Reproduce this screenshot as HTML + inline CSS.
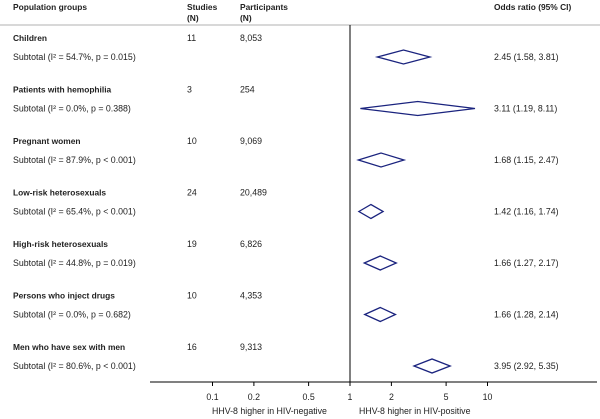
<!DOCTYPE html>
<html><head><meta charset="utf-8"><style>
body{margin:0;background:#fff;}
svg{display:block;font-family:"Liberation Sans",Arial,sans-serif;}
text{fill:#222;font-size:8.8px;}
.b{font-weight:bold;font-size:8.4px;}
</style></head><body>
<svg id="c" width="600" height="419">
<line x1="0" y1="25" x2="600" y2="25" stroke="#ccc" stroke-width="1.5"/>
<text x="13" y="10" class="b">Population groups</text>
<text x="187" y="10" class="b">Studies</text>
<text x="187" y="21" class="b">(N)</text>
<text x="240" y="10" class="b">Participants</text>
<text x="240" y="21" class="b">(N)</text>
<text x="494" y="10" class="b">Odds ratio (95% CI)</text>
<line x1="350" y1="25" x2="350" y2="382" stroke="#000" stroke-width="1"/>
<line x1="150" y1="382" x2="597" y2="382" stroke="#000" stroke-width="1"/>
<g id="rows"></g>
<g id="axis"></g>
<text x="212" y="414">HHV-8 higher in HIV-negative</text>
<text x="359" y="414">HHV-8 higher in HIV-positive</text>
</svg>
<script>
const groups=["Children","Patients with hemophilia","Pregnant women","Low-risk heterosexuals","High-risk heterosexuals","Persons who inject drugs","Men who have sex with men"];
const studies=["11","3","10","24","19","10","16"];
const participants=["8,053","254","9,069","20,489","6,826","4,353","9,313"];
const hetero=["I² = 54.7%, p = 0.015","I² = 0.0%, p = 0.388","I² = 87.9%, p < 0.001","I² = 65.4%, p < 0.001","I² = 44.8%, p = 0.019","I² = 0.0%, p = 0.682","I² = 80.6%, p < 0.001"];
const orVals=[2.45,3.11,1.68,1.42,1.66,1.66,3.95];
const lowerCI=[1.58,1.19,1.15,1.16,1.27,1.28,2.92];
const upperCI=[3.81,8.11,2.47,1.74,2.17,2.14,5.35];
const ticks=[0.1,0.2,0.5,1,2,5,10];
const tickLabels=["0.1","0.2","0.5","1","2","5","10"];
const NS="http://www.w3.org/2000/svg";
const xs=v=>350+137.5*Math.log10(v);
const rowY=i=>38+51.5*i;
function mk(tag,attrs,txt,parent){const e=document.createElementNS(NS,tag);for(const k in attrs)e.setAttribute(k,attrs[k]);if(txt!=null)e.textContent=txt;parent.appendChild(e);return e;}
const rows=document.getElementById('rows');
groups.forEach((g,i)=>{
 const y=rowY(i),ys=y+19;
 let t=mk('text',{x:13,y:y+3,class:'b'},g,rows);
 
 
 t=mk('text',{x:187,y:y+3},studies[i],rows);
 
 
 t=mk('text',{x:240,y:y+3},participants[i],rows);
 
 
 t=mk('text',{x:13,y:ys+3},"Subtotal  ("+hetero[i]+")",rows);
 
 
 const c=xs(orVals[i]),l=xs(lowerCI[i]),u=xs(upperCI[i]);
 const d=mk('polygon',{points:`${l},${ys} ${c},${ys-7} ${u},${ys} ${c},${ys+7}`,fill:'none',stroke:'#1a237e','stroke-width':1.3},null,rows);
 
 
 t=mk('text',{x:494,y:ys+3},`${orVals[i].toFixed(2)} (${lowerCI[i].toFixed(2)}, ${upperCI[i].toFixed(2)})`,rows);
 
 
});
const ax=document.getElementById('axis');
ticks.forEach((v,i)=>{
 const x=xs(v);
 const l=mk('line',{x1:x,y1:382,x2:x,y2:386,stroke:'#000'},null,ax);
 
 
 const t=mk('text',{x:x,y:400,'text-anchor':'middle'},tickLabels[i],ax);
 
 
});
</script>
</body></html>
